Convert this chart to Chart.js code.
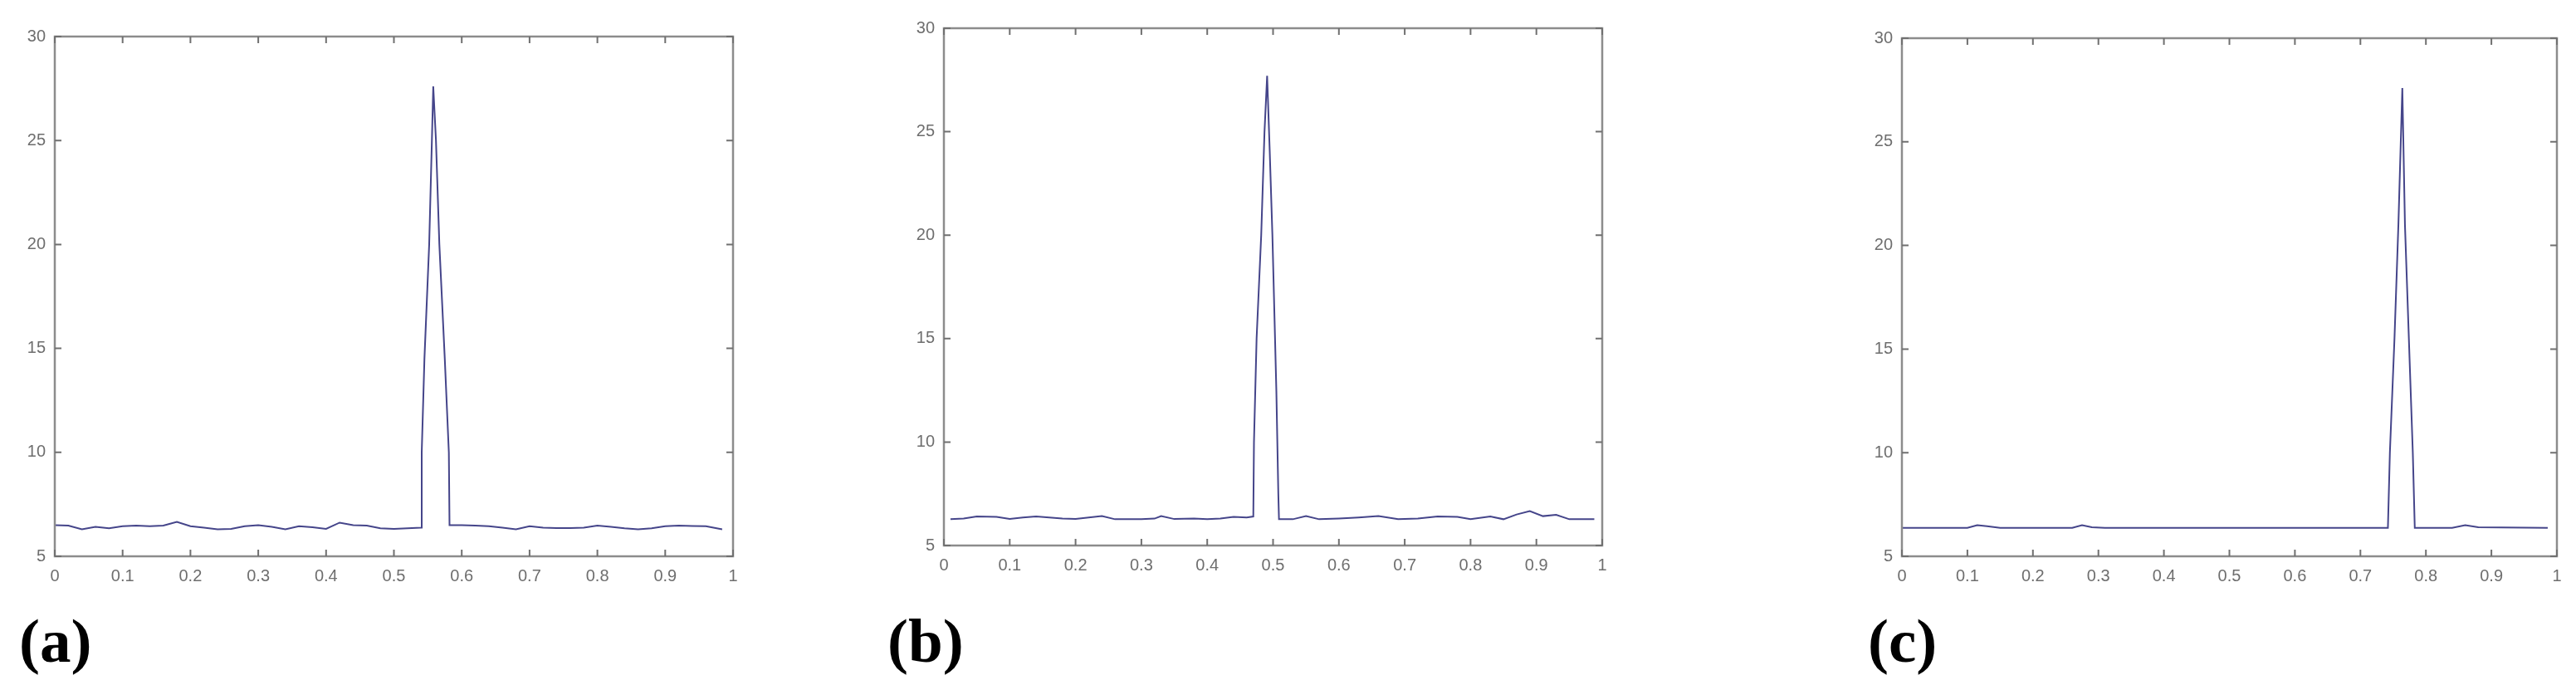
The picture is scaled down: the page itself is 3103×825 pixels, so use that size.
<!DOCTYPE html>
<html>
<head>
<meta charset="utf-8">
<script src="https://cdn.jsdelivr.net/npm/chart.js@4/dist/chart.umd.min.js"></script>
<style>
  html, body { margin: 0; padding: 0; background: #fff; }
  body { width: 3103px; height: 825px; position: relative; overflow: hidden; }
  canvas { position: absolute; top: 0; }
  .tag { position: absolute; font: bold 75px "Liberation Serif", "DejaVu Serif", serif; line-height: 75px; color: #000; }
</style>
</head>
<body>
<canvas id="plotA" width="903" height="730" style="left:0px"></canvas>
<canvas id="plotB" width="879" height="730" style="left:1071px"></canvas>
<canvas id="plotC" width="875" height="730" style="left:2225px"></canvas>
<div class="tag" style="left:23px;top:734px">(a)</div>
<div class="tag" style="left:1069px;top:734px">(b)</div>
<div class="tag" style="left:2250px;top:734px">(c)</div>
<script>
// tick labels shared by the three panels
const xTicks = [0, 0.1, 0.2, 0.3, 0.4, 0.5, 0.6, 0.7, 0.8, 0.9, 1];
const xTickLabels = ["0", "0.1", "0.2", "0.3", "0.4", "0.5", "0.6", "0.7", "0.8", "0.9", "1"];
const yTicks = [5, 10, 15, 20, 25, 30];
const yTickLabels = ["5", "10", "15", "20", "25", "30"];

// panel (a)
const aX = [0, 0.02, 0.04, 0.06, 0.08, 0.1, 0.12, 0.14, 0.16, 0.18, 0.2, 0.22, 0.24, 0.26, 0.28, 0.3, 0.32, 0.34, 0.36, 0.38, 0.4, 0.42, 0.44, 0.46, 0.48, 0.5, 0.52, 0.54,
  0.541, 0.545, 0.552, 0.556, 0.558, 0.562, 0.567, 0.575, 0.581, 0.582,
  0.6, 0.62, 0.64, 0.66, 0.68, 0.7, 0.72, 0.74, 0.76, 0.78, 0.8, 0.82, 0.84, 0.86, 0.88, 0.9, 0.92, 0.94, 0.96, 0.984];
const aY = [6.5, 6.48, 6.3, 6.42, 6.35, 6.45, 6.48, 6.45, 6.48, 6.66, 6.45, 6.38, 6.3, 6.32, 6.45, 6.5, 6.42, 6.3, 6.45, 6.4, 6.32, 6.62, 6.5, 6.48, 6.35, 6.32, 6.35, 6.38,
  10, 14.5, 20, 25, 27.6, 25, 20, 14.5, 10, 6.5,
  6.5, 6.48, 6.45, 6.38, 6.3, 6.45, 6.38, 6.36, 6.36, 6.38, 6.48, 6.42, 6.35, 6.3, 6.35, 6.45, 6.48, 6.46, 6.45, 6.3];

// panel (b)
const bX = [0.01, 0.03, 0.05, 0.08, 0.1, 0.12, 0.14, 0.16, 0.18, 0.2, 0.22, 0.24, 0.26, 0.28, 0.3, 0.32, 0.33, 0.35, 0.38, 0.4, 0.42, 0.44, 0.46, 0.47,
  0.471, 0.475, 0.482, 0.487, 0.491, 0.495, 0.499, 0.503, 0.505, 0.508, 0.509,
  0.53, 0.55, 0.57, 0.6, 0.63, 0.66, 0.69, 0.72, 0.75, 0.78, 0.8, 0.83, 0.85, 0.87, 0.89, 0.91, 0.93, 0.95, 0.988];
const bY = [6.27, 6.3, 6.4, 6.38, 6.28, 6.35, 6.4, 6.35, 6.3, 6.28, 6.35, 6.42, 6.27, 6.27, 6.27, 6.3, 6.42, 6.28, 6.3, 6.27, 6.3, 6.38, 6.35, 6.4,
  10, 15, 20, 25, 27.7, 24, 20, 15, 12.5, 7.5, 6.27,
  6.27, 6.42, 6.27, 6.3, 6.35, 6.42, 6.27, 6.3, 6.4, 6.38, 6.27, 6.4, 6.27, 6.5, 6.66, 6.42, 6.48, 6.27, 6.27];

// panel (c)
const cX = [0, 0.1, 0.115, 0.13, 0.15, 0.26, 0.275, 0.29, 0.31, 0.5, 0.742,
  0.745, 0.752, 0.758, 0.764, 0.768, 0.774, 0.78, 0.783,
  0.84, 0.86, 0.88, 0.986];
const cY = [6.37, 6.37, 6.5, 6.45, 6.37, 6.37, 6.5, 6.4, 6.37, 6.37, 6.37,
  10, 15.5, 21, 27.6, 21, 15.5, 10, 6.37,
  6.37, 6.5, 6.4, 6.37];

const tickFont = { family: "Liberation Sans, Arial, sans-serif", size: 20 };

// MATLAB-style box with inward ticks on all four sides
const boxFrame = {
  id: "boxFrame",
  afterDraw(chart) {
    const { ctx, chartArea: area, scales } = chart;
    ctx.save();
    ctx.strokeStyle = "#8c8c8c";
    ctx.lineWidth = 2.5;
    ctx.strokeRect(area.left, area.top, area.right - area.left, area.bottom - area.top);
    ctx.strokeStyle = "#707070";
    ctx.lineWidth = 2;
    ctx.beginPath();
    scales.x.ticks.forEach((t) => {
      const px = scales.x.getPixelForValue(t.value);
      ctx.moveTo(px, area.bottom); ctx.lineTo(px, area.bottom - 8);
      ctx.moveTo(px, area.top); ctx.lineTo(px, area.top + 8);
    });
    scales.y.ticks.forEach((t) => {
      const py = scales.y.getPixelForValue(t.value);
      ctx.moveTo(area.left, py); ctx.lineTo(area.left + 8, py);
      ctx.moveTo(area.right, py); ctx.lineTo(area.right - 8, py);
    });
    ctx.stroke();
    ctx.restore();
  }
};

function makePanel(canvasId, xs, ys, top, bottom, canvasHeight) {
  const points = xs.map((x, i) => ({ x, y: ys[i] }));
  return new Chart(document.getElementById(canvasId), {
    type: "line",
    data: { datasets: [{ data: points, borderColor: "#45458a", borderWidth: 2, pointRadius: 0, tension: 0, fill: false }] },
    options: {
      responsive: false,
      animation: false,
      devicePixelRatio: 1,
      layout: { padding: { top, right: 20, left: 0, bottom: 0 } },
      plugins: { legend: { display: false }, tooltip: { enabled: false } },
      scales: {
        x: {
          type: "linear", min: 0, max: 1,
          afterBuildTicks: (s) => { s.ticks = xTicks.map((v) => ({ value: v })); },
          afterFit: (s) => { s.height = canvasHeight - bottom; },
          grid: { display: false, drawTicks: false },
          border: { display: false },
          ticks: { color: "#6e6e6e", font: tickFont, padding: 12, maxRotation: 0, autoSkip: false,
            callback: (v) => xTickLabels[xTicks.indexOf(v)] }
        },
        y: {
          type: "linear", min: 5, max: 30,
          afterBuildTicks: (s) => { s.ticks = yTicks.map((v) => ({ value: v })); },
          afterFit: (s) => { s.width = 66; },
          grid: { display: false, drawTicks: false },
          border: { display: false },
          ticks: { color: "#6e6e6e", font: tickFont, padding: 11, autoSkip: false,
            callback: (v) => yTickLabels[yTicks.indexOf(v)] }
        }
      }
    },
    plugins: [boxFrame]
  });
}

makePanel("plotA", aX, aY, 44, 670, 730);
makePanel("plotB", bX, bY, 34, 657, 730);
makePanel("plotC", cX, cY, 46, 670, 730);
</script>
</body>
</html>
